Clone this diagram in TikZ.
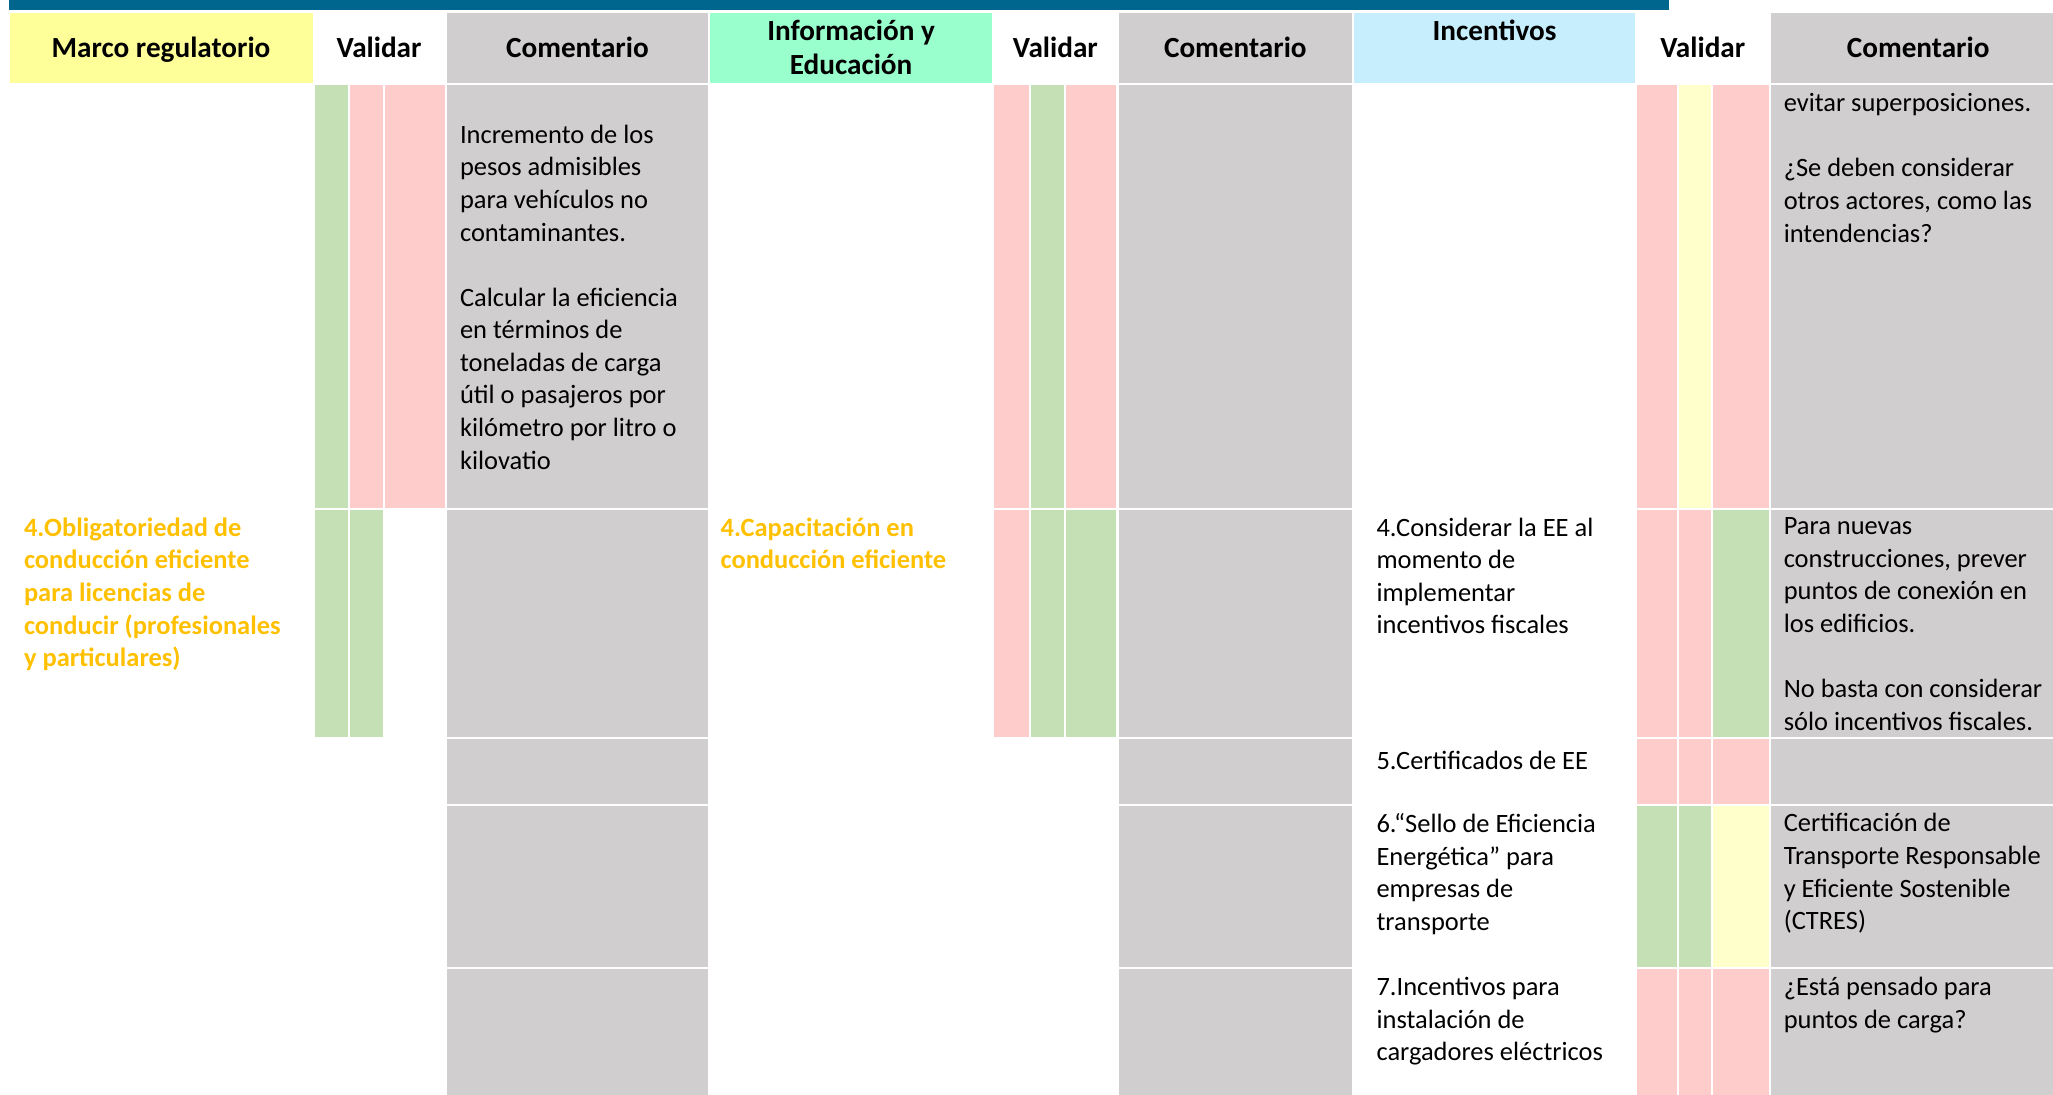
\documentclass[tikz,border=0pt]{standalone}
\usepackage{fontspec}
\setmainfont{Carlito}

\definecolor{barblue}{RGB}{0,102,142}
\definecolor{hdryellow}{RGB}{255,255,153}
\definecolor{hdrmint}{RGB}{153,255,204}
\definecolor{hdrsky}{RGB}{199,238,252}
\definecolor{cmtgray}{RGB}{208,206,206}
\definecolor{okgreen}{RGB}{197,224,180}
\definecolor{nopink}{RGB}{255,204,204}
\definecolor{midyellow}{RGB}{255,255,204}
\definecolor{itemorange}{RGB}{255,192,0}

\tikzset{
  cellbox/.style={draw=white, line width=0.9pt},
  hdr/.style={font=\fontsize{12.7}{14.74}\selectfont\bfseries, align=center, anchor=base, inner sep=0pt},
  txt/.style={font=\fontsize{11.5}{14.17}\selectfont, align=left, anchor=north west, inner sep=0pt, execute at begin node=\strut},
  item/.style={txt, font=\fontsize{11.5}{14.17}\selectfont\bfseries, text=itemorange}
}

\begin{document}
\begin{tikzpicture}[x=0.02cm, y=-0.02cm]
	\useasboundingbox (0,0) rectangle (1568,836);
	
	% top bar and header cells
	\fill[barblue] (7,0) rectangle (1275,8);
	\path[cellbox, fill=hdryellow] (7,9) rectangle (239.5,64.5);
	\path[cellbox, fill=cmtgray] (340.5,9) rectangle (541.5,64.5);
	\path[cellbox, fill=hdrmint] (541.5,9) rectangle (758.5,64.5);
	\path[cellbox, fill=cmtgray] (853.5,9) rectangle (1033.5,64.5);
	\path[cellbox, fill=hdrsky] (1033.5,9) rectangle (1249.5,64.5);
	\path[cellbox, fill=cmtgray] (1351.5,9) rectangle (1580,64.5);
	
	% comment columns
	\foreach \ya/\yb in {64.5/388.5, 388.5/563.5, 563.5/614.5, 614.5/739.5, 739.5/850} {
		\path[cellbox, fill=cmtgray] (340.5,\ya) rectangle (541.5,\yb);
		\path[cellbox, fill=cmtgray] (853.5,\ya) rectangle (1033.5,\yb);
		\path[cellbox, fill=cmtgray] (1351.5,\ya) rectangle (1580,\yb);
	}
	
	% validation marks
	\foreach \xa/\xb/\ya/\yb/\c in {
		239.5/266.5/64.5/388.5/okgreen, 266.5/293.5/64.5/388.5/nopink, 293.5/340.5/64.5/388.5/nopink,
		239.5/266.5/388.5/563.5/okgreen, 266.5/293.5/388.5/563.5/okgreen,
		758.5/786.5/64.5/388.5/nopink, 786.5/813.5/64.5/388.5/okgreen, 813.5/853.5/64.5/388.5/nopink,
		758.5/786.5/388.5/563.5/nopink, 786.5/813.5/388.5/563.5/okgreen, 813.5/853.5/388.5/563.5/okgreen,
		1249.5/1281.5/64.5/388.5/nopink, 1281.5/1307.5/64.5/388.5/midyellow, 1307.5/1351.5/64.5/388.5/nopink,
		1249.5/1281.5/388.5/563.5/nopink, 1281.5/1307.5/388.5/563.5/nopink, 1307.5/1351.5/388.5/563.5/okgreen,
		1249.5/1281.5/563.5/614.5/nopink, 1281.5/1307.5/563.5/614.5/nopink, 1307.5/1351.5/563.5/614.5/nopink,
		1249.5/1281.5/614.5/739.5/okgreen, 1281.5/1307.5/614.5/739.5/okgreen, 1307.5/1351.5/614.5/739.5/midyellow,
		1249.5/1281.5/739.5/850/nopink, 1281.5/1307.5/739.5/850/nopink, 1307.5/1351.5/739.5/850/nopink}
		\path[cellbox, fill=\c] (\xa,\ya) rectangle (\xb,\yb);
	
	% headers
	\node[hdr] (h-marco) at (123,44) {Marco regulatorio};
	\node[hdr] (h-val1) at (289.5,44) {Validar};
	\node[hdr] (h-com1) at (441,44) {Comentario};
	\node[hdr] (h-info) at (650,57) {Información y\\Educación};
	\node[hdr] (h-val2) at (806,44) {Validar};
	\node[hdr] (h-com2) at (943.5,44) {Comentario};
	\node[hdr] (h-inc) at (1141.5,31) {Incentivos};
	\node[hdr] (h-val3) at (1300.5,44) {Validar};
	\node[hdr] (h-com3) at (1465,44) {Comentario};
	
	% cell texts
	\node[txt] (c1-a) at (351,95) {Incremento de los\\pesos admisibles\\para vehículos no\\contaminantes.\\[14.17pt]Calcular la eficiencia\\en términos de\\toneladas de carga\\útil o pasajeros por\\kilómetro por litro o\\kilovatio};
	\node[txt] (c3-a) at (1362,71) {evitar superposiciones.\\[14.17pt]¿Se deben considerar\\otros actores, como las\\intendencias?};
	\node[item] (m4) at (18,395) {4.Obligatoriedad de\\conducción eficiente\\para licencias de\\conducir (profesionales\\y particulares)};
	\node[item] (e4) at (550,395) {4.Capacitación en\\conducción eficiente};
	\node[txt] (i4) at (1051,395) {4.Considerar la EE al\\momento de\\implementar\\incentivos fiscales};
	\node[txt] (c3-b) at (1362,395) {Para nuevas\\construcciones, prever\\puntos de conexión en\\los edificios.\\[14.17pt]No basta con considerar\\sólo incentivos fiscales.};
	\node[txt] (i5) at (1051,570) {5.Certificados de EE};
	\node[txt] (i6) at (1051,621) {6.“Sello de Eficiencia\\Energética” para\\empresas de\\transporte};
	\node[txt] (c3-d) at (1362,621) {Certificación de\\Transporte Responsable\\y Eficiente Sostenible\\(CTRES)};
	\node[txt] (i7) at (1051,746) {7.Incentivos para\\instalación de\\cargadores eléctricos};
	\node[txt] (c3-e) at (1362,746) {¿Está pensado para\\puntos de carga?};
\end{tikzpicture}
\end{document}
